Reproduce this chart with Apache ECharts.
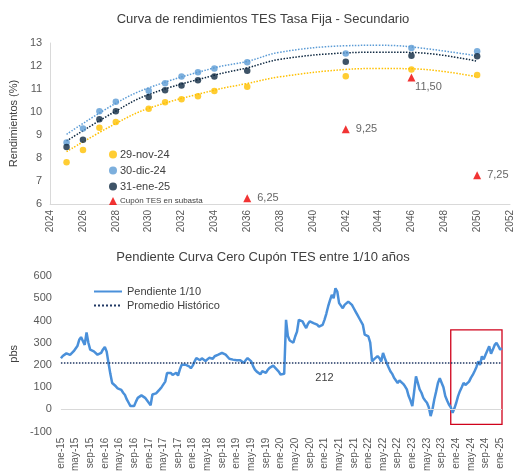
<!DOCTYPE html>
<html><head><meta charset="utf-8">
<script src="https://cdn.jsdelivr.net/npm/echarts@6/dist/echarts.min.js"></script>
<style>html,body{margin:0;padding:0;background:#fff}#c{width:526px;height:474px}</style>
</head><body><div id="c"></div>
<script>
// ---- Top chart data ----
const bondYears = [2025,2026,2027,2028,2030,2031,2032,2033,2034,2036,2042,2046,2050];
const yNov24 = [7.82,8.35,9.32,9.57,10.14,10.42,10.55,10.68,10.91,11.10,11.55,11.85,11.61];
const yDic24 = [8.67,9.28,10.03,10.45,10.92,11.25,11.54,11.73,11.89,12.16,12.54,12.78,12.64];
const yEne25 = [8.48,8.79,9.68,10.03,10.65,10.95,11.15,11.38,11.54,11.79,12.19,12.45,12.42];
const trendYears = [2025,2028,2030,2034,2036,2038,2042,2044,2046,2050];
const trendNov24 = [8.28,9.50,10.16,10.95,11.24,11.53,11.85,11.89,11.88,11.53];
const trendDic24 = [9.03,10.38,11.05,11.92,12.20,12.60,12.88,12.90,12.83,12.44];
const trendEne25 = [8.74,10.04,10.76,11.60,11.92,12.29,12.57,12.60,12.59,12.21];
const tesYears = [2036,2042,2046,2050];
const tesCoupons = [6.25,9.25,11.50,7.25];

// ---- Bottom chart data (half-monthly, ene-15 .. ene-25) ----
const slope2015 = [230,240,246,252,254,245,246,262,257,285,313,325,328,290,346,300,269,262,261,255,246,238,254,270];
const slope2016 = [281,260,209,160,119,112,104,95,97,88,75,65,45,30,15,10,15,35,52,48,63,58,52,60];
const slope2017 = [30,19,67,60,72,78,90,100,104,125,164,170,164,155,157,165,152,180,201,205,201,198,194,185];
const slope2018 = [197,215,231,225,221,230,228,218,224,232,231,228,239,235,246,240,254,258,246,238,228,222,224,218];
const slope2019 = [221,228,221,215,209,222,231,225,216,195,179,170,164,158,172,165,164,178,187,192,197,190,179,170];
const slope2020 = [157,150,160,403,330,310,313,300,328,350,403,395,396,380,366,385,396,390,388,380,381,372,366,380];
const slope2021 = [403,430,463,490,515,500,545,530,478,470,455,470,478,485,478,470,455,440,425,410,403,380,336,340];
const slope2022 = [328,300,216,225,224,240,231,215,254,230,209,190,172,160,142,150,119,130,127,115,104,90,60,40];
const slope2023 = [15,80,149,120,90,75,52,40,30,10,-30,0,45,80,119,140,134,100,60,40,22,10,-15,5];
const slope2024 = [30,60,82,100,119,110,104,125,142,155,172,190,216,200,239,225,246,265,284,250,269,290,299,285];
const slope2025 = [269,275];
const avgHist = 212;
const tickLabels = ['ene-15','may-15','sep-15','ene-16','may-16','sep-16','ene-17','may-17','sep-17','ene-18','may-18','sep-18','ene-19','may-19','sep-19','ene-20','may-20','sep-20','ene-21','may-21','sep-21','ene-22','may-22','sep-22','ene-23','may-23','sep-23','ene-24','may-24','sep-24','ene-25'];
const boxStart = 213, boxTop = 358, boxBottom = -67;

const slope = [].concat(slope2015,slope2016,slope2017,slope2018,slope2019,slope2020,slope2021,slope2022,slope2023,slope2024,slope2025);
const cats = slope.map((v,i)=>'p'+i);

const FONT = 'Liberation Sans';
const pairs = (xs, ys) => xs.map((x,i)=>[x, ys[i]]);
const fmtComma = v => v.toFixed(2).replace('.', ',');

const chart = echarts.init(document.getElementById('c'), null, {renderer:'canvas'});
const scat = (name, ys, color) => ({
  type:'scatter', name, xAxisIndex:0, yAxisIndex:0, data:pairs(bondYears, ys),
  symbol:'circle', symbolSize:6.5, itemStyle:{color}, z:5
});
const trend = (ys, color) => ({
  type:'line', name:'_t'+color, xAxisIndex:0, yAxisIndex:0, data:pairs(trendYears, ys),
  smooth:0.4, showSymbol:false, symbol:'none', lineStyle:{type:'dotted', width:1.5, color}, z:3, silent:true
});

chart.setOption({
  animation:false,
  textStyle:{fontFamily:FONT},
  title:[
    {text:'Curva de rendimientos TES Tasa Fija - Secundario', left:'center', top:8,
     textStyle:{fontFamily:FONT, fontSize:13, fontWeight:'normal', color:'#404040'}},
    {text:'Pendiente Curva Cero Cupón TES entre 1/10 años', left:'center', top:246,
     textStyle:{fontFamily:FONT, fontSize:13, fontWeight:'normal', color:'#404040'}}
  ],
  legend:[
    {orient:'vertical', left:104, top:144, itemWidth:8, itemHeight:8, itemGap:5,
     textStyle:{fontFamily:FONT, fontSize:11, color:'#404040', padding:[0,0,0,-2]},
     data:[{name:'29-nov-24', icon:'circle'},{name:'30-dic-24', icon:'circle'},{name:'31-ene-25', icon:'circle'},
           {name:'Cupón TES en subasta', icon:'triangle', textStyle:{fontSize:8}}]},
    {orient:'vertical', left:88, top:281, itemWidth:28, itemHeight:10, itemGap:3,
     itemStyle:{opacity:0},
     textStyle:{fontFamily:FONT, fontSize:11, color:'#404040'},
     data:['Pendiente 1/10','Promedio Histórico']}
  ],
  grid:[
    {left:48, top:43, width:462, height:161},
    {left:56, top:276, width:446, height:156}
  ],
  xAxis:[
    {type:'value', gridIndex:0, min:2024, max:2052, interval:2,
     axisLine:{show:true, lineStyle:{color:'#d9d9d9'}}, axisTick:{show:false}, splitLine:{show:false},
     axisLabel:{rotate:90, fontSize:10, color:'#595959', margin:6, formatter:(v)=> String(v)}},
    {type:'category', gridIndex:1, data:cats, boundaryGap:false,
     axisLine:{show:false}, axisTick:{show:false}, splitLine:{show:false},
     axisLabel:{rotate:90, fontSize:10, color:'#595959', margin:6,
       interval:(i)=> i % 8 === 0,
       formatter:(v, i)=> tickLabels[Math.round(i/8)] || ''}}
  ],
  yAxis:[
    {type:'value', gridIndex:0, min:6, max:13, interval:1,
     name:'Rendimientos (%)', nameLocation:'middle', nameGap:26,
     nameTextStyle:{fontFamily:FONT, fontSize:11, color:'#404040'},
     axisLine:{show:true, lineStyle:{color:'#d9d9d9'}}, axisTick:{show:false}, splitLine:{show:false},
     axisLabel:{fontSize:11, color:'#595959', margin:8}},
    {type:'value', gridIndex:1, min:-100, max:600, interval:100,
     name:'pbs', nameLocation:'middle', nameGap:30,
     nameTextStyle:{fontFamily:FONT, fontSize:11, color:'#404040'},
     axisLine:{show:false}, axisTick:{show:false}, splitLine:{show:false},
     axisLabel:{fontSize:11, color:'#595959', margin:9}}
  ],
  series:[
    trend(trendNov24, '#FFC000'),
    trend(trendDic24, '#5B9BD5'),
    trend(trendEne25, '#0E2841'),
    scat('29-nov-24', yNov24, '#FFC000'),
    scat('30-dic-24', yDic24, '#5B9BD5'),
    scat('31-ene-25', yEne25, '#0E2841'),
    {type:'scatter', name:'Cupón TES en subasta', xAxisIndex:0, yAxisIndex:0,
     symbol:'triangle', symbolSize:8, itemStyle:{color:'#EE0000'}, z:6,
     data: pairs(tesYears, tesCoupons).map((p,i)=> tesCoupons[i] === 11.5 ?
        {value:p, label:{position:'bottom', offset:[17,-6]}} : {value:p}),
     label:{show:true, position:'right', distance:6, fontSize:11, color:'#404040', fontFamily:FONT,
        formatter:(p)=> fmtComma(p.value[1])}},
    {type:'line', name:'Pendiente 1/10', xAxisIndex:1, yAxisIndex:1, data:slope,
     showSymbol:false, symbol:'none', lineStyle:{color:'#4A90DA', width:2.5}, itemStyle:{color:'#4A90DA'}, z:4,
     markArea:{silent:true, itemStyle:{color:'rgba(0,0,0,0)', borderColor:'#D0021B', borderWidth:1.3},
       data:[[{xAxis:cats[boxStart], yAxis:boxTop},{xAxis:cats[cats.length-1], yAxis:boxBottom}]]}},
    {type:'line', name:'Promedio Histórico', xAxisIndex:1, yAxisIndex:1, data:[],
     showSymbol:false, symbol:'none', lineStyle:{color:'#203864', width:1.5, type:'dotted'}, itemStyle:{color:'#203864'}, z:3,
     markLine:{silent:true, symbol:'none', animation:false,
       data:[
         {yAxis:0, lineStyle:{color:'#d9d9d9', type:'solid', width:1}, label:{show:false}},
         {yAxis:avgHist, lineStyle:{color:'#203864', type:'dotted', width:1.5}, label:{show:false}}
       ]},
     markPoint:{silent:true, symbol:'circle', symbolSize:0,
       data:[{coord:[cats[144], avgHist], value:avgHist}],
       label:{show:true, position:'bottom', distance:10, fontSize:11, color:'#404040', fontFamily:FONT,
         formatter:()=> String(avgHist)}}}
  ]
});
</script></body></html>
